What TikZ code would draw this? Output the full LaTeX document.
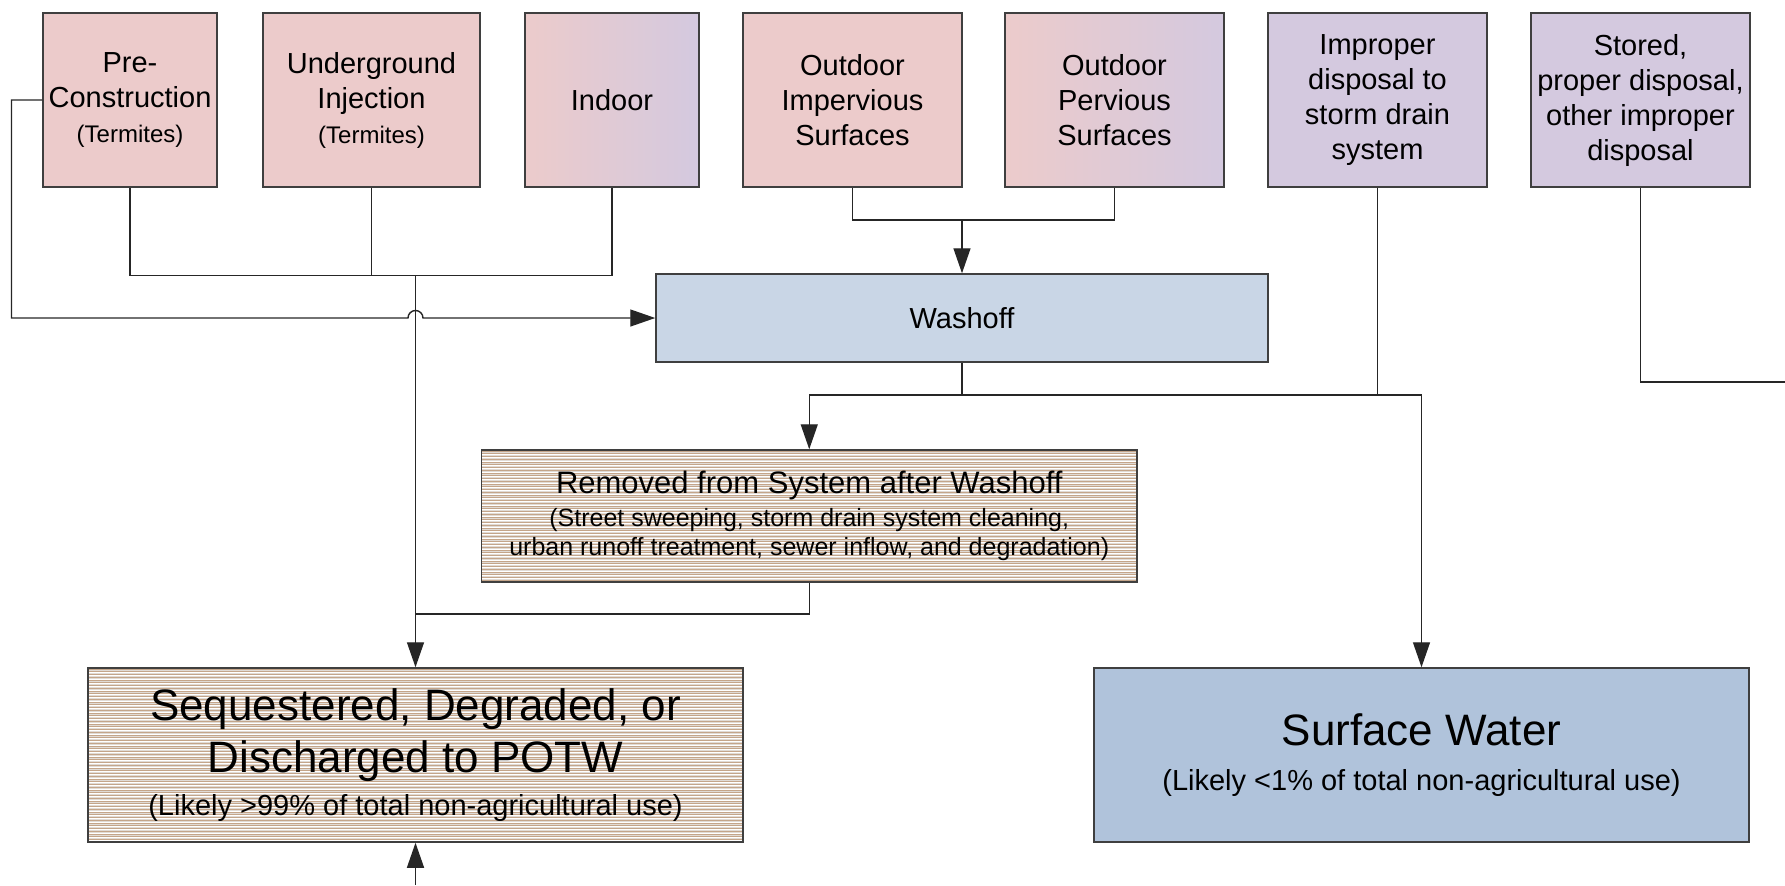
\documentclass[tikz,border=0pt]{standalone}
\usepackage{fontspec}
\setmainfont{Liberation Sans}
\usetikzlibrary{arrows.meta}

\definecolor{pinkc}{HTML}{ECCBCB}
\definecolor{lavc}{HTML}{D4C9DF}
\definecolor{washc}{HTML}{C9D6E6}
\definecolor{surfc}{HTML}{B0C3DB}
\definecolor{tanc}{HTML}{C4A58A}
\definecolor{greyc}{HTML}{E0DBD6}
\definecolor{edgec}{HTML}{3F3F3F}

\tikzset{
  box/.style={draw=edgec, line width=0.75pt, inner sep=0pt, align=center, text=black},
  topbox/.style={box, minimum height=87pt, font=\fontsize{14.5}{17.5}\selectfont},
  striped/.style={box, fill=white, path picture={
      \foreach \i in {0,...,70}{
        \draw[tanc, line width=0.5pt]
          ([yshift=-\i*1.375pt-0.5pt]path picture bounding box.north west) --
          ([yshift=-\i*1.375pt-0.5pt]path picture bounding box.north east);
        \draw[greyc, line width=0.3pt]
          ([yshift=-\i*1.375pt-1.2pt]path picture bounding box.north west) --
          ([yshift=-\i*1.375pt-1.2pt]path picture bounding box.north east);
      }}},
  link/.style={draw=black!85, line width=0.7pt},
  arrowlink/.style={link, -{Triangle[width=8.5pt,length=12.5pt]}}
}
\newcommand{\smalltxt}[1]{{\fontsize{12}{16}\selectfont #1}}

\begin{document}
\begin{tikzpicture}[x=0.5pt, y=-0.5pt]
\useasboundingbox (0,0) rectangle (1785,885);

% source boxes along the top
\node[topbox, minimum width=87pt, fill=pinkc] (pre) at (130,100)
  {Pre-\\Construction\\\smalltxt{(Termites)}};
\node[topbox, minimum width=108.5pt, fill=pinkc] (under) at (371.5,100)
  {Underground\\Injection\\\smalltxt{(Termites)}};
\node[topbox, minimum width=87pt, left color=pinkc, right color=lavc] (indoor) at (612,100)
  {Indoor};
\node[topbox, minimum width=109.5pt, fill=pinkc] (oimp) at (852.5,100)
  {Outdoor\\Impervious\\Surfaces};
\node[topbox, minimum width=109.5pt, left color=pinkc, right color=lavc] (operv) at (1114.5,100)
  {Outdoor\\Pervious\\Surfaces};
\node[topbox, minimum width=109.5pt, fill=lavc] (improp) at (1377.5,100)
  {Improper\\disposal to\\storm drain\\system};
\node[topbox, minimum width=109.5pt, fill=lavc] (stored) at (1640.5,100)
  {Stored,\\proper disposal,\\other improper\\disposal};

% washoff and removal
\node[box, minimum width=306pt, minimum height=44pt, fill=washc,
      font=\fontsize{14.5}{17.5}\selectfont] (wash) at (962,318) {Washoff};
\node[striped, minimum width=327.75pt, minimum height=66pt,
      font=\fontsize{12.5}{14.5}\selectfont] (removed) at (809.25,516)
  {{\fontsize{15.5}{17}\selectfont Removed from System after Washoff}\\[2pt]
   (Street sweeping, storm drain system cleaning,\\
   urban runoff treatment, sewer inflow, and degradation)};

% final fates
\node[striped, minimum width=327.5pt, minimum height=87pt,
      font=\fontsize{14.5}{21.5}\selectfont] (seq) at (415.5,755)
  {{\fontsize{22}{25.5}\selectfont Sequestered, Degraded, or}\\[4.5pt]
   {\fontsize{22}{24}\selectfont Discharged to POTW}\\
   (Likely >99\% of total non-agricultural use)};
\node[box, minimum width=327.5pt, minimum height=87pt, fill=surfc,
      font=\fontsize{14.5}{22.5}\selectfont] (surf) at (1421.5,755)
  {{\fontsize{22}{27}\selectfont Surface Water}\\
   (Likely <1\% of total non-agricultural use)};

% junction points
\coordinate (jA) at (415.5,275.5);
\coordinate (jB) at (962,220);
\coordinate (jC) at (962,395);
\coordinate (jD) at (415.5,614);
\coordinate (leftrail) at (11.5,100);
\coordinate (outR) at (1785,382);
\coordinate (outB) at (415.5,885);

% indoor-type uses collect into the sequestered box
\draw[link] (pre.south) -- (pre.south |- jA) -- (indoor.south |- jA) -- (indoor.south);
\draw[link] (under.south) -- (under.south |- jA);
\draw[arrowlink] (jA) -- (seq.north);

% pre-construction side route into washoff, hopping over the trunk
\draw[arrowlink] (pre.west) -- (leftrail) -- (leftrail |- wash.west) -- (408,318)
  arc[start angle=180, end angle=360, radius=7.5] -- (wash.west);

% outdoor surfaces into washoff
\draw[link] (oimp.south) -- (oimp.south |- jB) -- (operv.south |- jB) -- (operv.south);
\draw[arrowlink] (jB) -- (wash.north);

% washoff splits
\draw[link] (wash.south) -- (jC);
\draw[link] (removed.north |- jC) -- (surf.north |- jC);
\draw[arrowlink] (removed.north |- jC) -- (removed.north);
\draw[arrowlink] (surf.north |- jC) -- (surf.north);
\draw[link] (improp.south) -- (improp.south |- jC);

% removal back to trunk
\draw[link] (removed.south) -- (removed.south |- jD) -- (jD);

% stored / other disposal
\draw[link] (stored.south) -- (stored.south |- outR) -- (outR);

% inflow from below
\draw[arrowlink] (outB) -- (seq.south);
\end{tikzpicture}
\end{document}
